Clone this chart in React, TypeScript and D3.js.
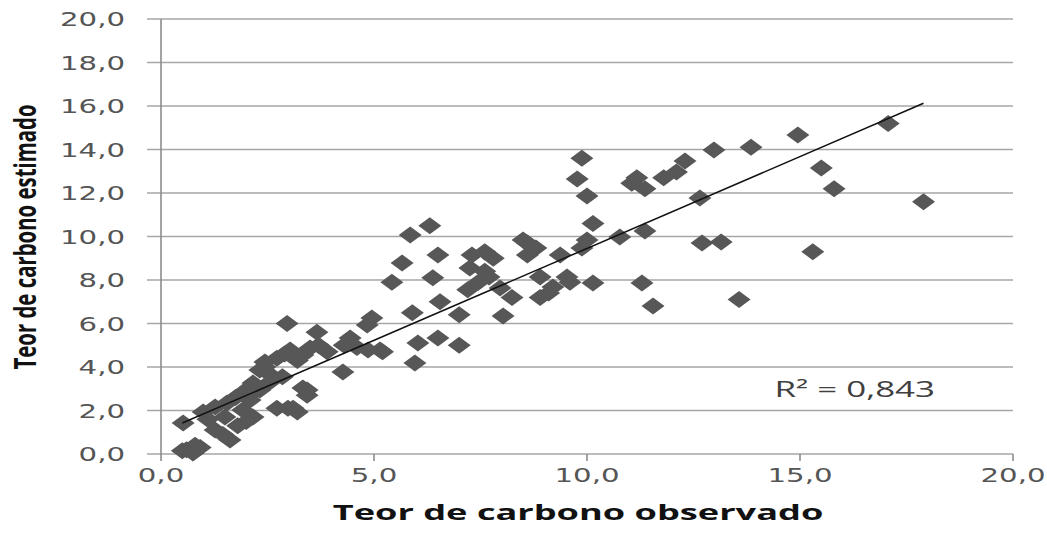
import React, { useEffect, useRef } from 'react';
import * as d3 from 'd3';

// Teor de carbono observado (x) vs estimado (y)
const observado = [
  0.5, 0.6, 0.75, 0.92, 0.8,
  0.52, 0.99, 1.27, 1.1, 1.55, 1.5, 1.92, 2.16, 1.62, 1.45, 1.27, 1.8, 2.0,
  2.14, 2.32, 2.1, 2.72, 2.98, 3.2, 3.33, 3.43, 2.16, 2.09, 2.0, 1.75, 2.44, 2.32, 2.6, 3.1,
  2.96, 3.66, 4.44, 4.95, 5.14, 3.03, 2.72, 2.44, 3.33, 3.5, 3.9, 4.27, 3.43, 4.3, 4.6,
  2.9, 3.2, 3.7, 2.55, 2.85,
  4.84, 5.2, 4.86, 6.03, 6.5, 7.0, 5.96,
  5.85, 6.31, 5.66, 6.5, 5.42, 6.38, 7.3, 7.6, 7.8, 7.25, 8.6, 8.6, 8.8, 7.7, 7.2, 7.96,
  8.24, 6.55, 7.0, 8.03, 5.9, 7.45, 7.6,
  9.88, 9.77, 10.0, 12.3, 12.98, 11.17, 11.36, 11.05, 11.8, 12.1, 12.65, 10.14, 8.73, 8.5,
  9.37, 10.0, 9.88, 10.77, 11.36, 12.7, 13.15, 8.9, 9.2, 9.53, 8.9, 10.14, 11.29, 11.55,
  9.1, 9.6,
  17.07, 14.95, 13.85, 15.5, 15.8, 17.9, 15.3, 13.57,
];
const estimado = [
  0.15, 0.2, 0.05, 0.3, 0.4,
  1.42, 1.93, 2.16, 1.6, 2.34, 1.7, 2.02, 1.7, 0.64, 0.9, 1.1, 1.3, 1.5,
  2.8, 2.94, 3.08, 2.1, 2.1, 1.93, 3.03, 2.7, 3.26, 2.48, 2.94, 2.6, 4.0, 3.86, 3.6, 2.1,
  6.0, 5.6, 5.33, 6.25, 4.78, 4.78, 4.4, 4.23, 4.55, 4.87, 4.7, 3.77, 2.94, 5.0, 4.9,
  4.6, 4.3, 5.0, 3.3, 3.55,
  5.93, 4.7, 4.78, 5.1, 5.33, 5.0, 4.18,
  10.07, 10.5, 8.78, 9.15, 7.9, 8.1, 9.15, 9.3, 9.0, 8.55, 9.7, 9.15, 9.47, 8.14, 7.55, 7.63,
  7.2, 7.0, 6.4, 6.35, 6.5, 7.9, 8.4,
  13.6, 12.64, 11.86, 13.47, 13.98, 12.7, 12.2, 12.45, 12.7, 12.96, 11.77, 10.6, 9.5, 9.84,
  9.15, 9.84, 9.47, 9.98, 10.25, 9.7, 9.75, 8.14, 7.68, 8.14, 7.2, 7.86, 7.86, 6.8,
  7.4, 7.9,
  15.2, 14.67, 14.1, 13.15, 12.2, 11.6, 9.3, 7.1,
];

// linha de tendência linear (Excel) e R²
const tendenciaInclinacao = 0.845;
const tendenciaIntercepto = 1.0;
const r2Texto = 'R² = 0,843';

const xTicks = [0, 5, 10, 15, 20];
const yTicks = [0, 2, 4, 6, 8, 10, 12, 14, 16, 18, 20];

const fmt = (v: number) => v.toFixed(1).replace('.', ',');

const App = () => {
  const ref = useRef<SVGSVGElement>(null);

  useEffect(() => {
    const svg = d3.select(ref.current);
    svg.selectAll('*').remove();

    const SX = 1.46; // o original está esticado na horizontal
    const left = 161, right = 1013, top = 19, bottom = 454;

    const x = d3.scaleLinear().domain([0, 20]).range([left, right]);
    const y = d3.scaleLinear().domain([0, 20]).range([bottom, top]);

    const grid = '#a6a6a6';
    const textCol = '#555555';

    // grade horizontal
    svg.append('g')
      .selectAll('line')
      .data(yTicks)
      .join('line')
      .attr('x1', left - 14)
      .attr('x2', right)
      .attr('y1', (d) => y(d))
      .attr('y2', (d) => y(d))
      .attr('stroke', grid)
      .attr('stroke-width', 1.6);

    // eixo y
    svg.append('line')
      .attr('x1', left).attr('x2', left)
      .attr('y1', top).attr('y2', bottom)
      .attr('stroke', '#8c8c8c')
      .attr('stroke-width', 1.6);

    // marcas do eixo x
    svg.append('g')
      .selectAll('line')
      .data(xTicks)
      .join('line')
      .attr('x1', (d) => x(d))
      .attr('x2', (d) => x(d))
      .attr('y1', bottom)
      .attr('y2', bottom + 7)
      .attr('stroke', '#8c8c8c')
      .attr('stroke-width', 1.6);

    // rótulos y
    svg.append('g')
      .selectAll('g')
      .data(yTicks)
      .join('g')
      .attr('transform', (d) => `translate(${left - 36},${y(d) + 7}) scale(${SX},1)`)
      .append('text')
      .attr('text-anchor', 'end')
      .style('font-family', 'DejaVu Sans')
      .style('font-size', '20px')
      .style('fill', textCol)
      .text((d) => fmt(d));

    // rótulos x
    svg.append('g')
      .selectAll('g')
      .data(xTicks)
      .join('g')
      .attr('transform', (d) => `translate(${x(d)},${bottom + 28}) scale(${SX},1)`)
      .append('text')
      .attr('text-anchor', 'middle')
      .style('font-family', 'DejaVu Sans')
      .style('font-size', '20px')
      .style('fill', textCol)
      .text((d) => fmt(d));

    // pontos (losangos)
    const w = 11.5, h = 8.5;
    svg.append('g')
      .selectAll('path')
      .data(observado.map((v, i) => [v, estimado[i]]))
      .join('path')
      .attr('d', `M0,${-h}L${w},0L0,${h}L${-w},0Z`)
      .attr('transform', (d) => `translate(${x(d[0])},${y(d[1])})`)
      .attr('fill', '#575757');

    // linha de tendência
    const [xmin, xmax] = d3.extent(observado) as [number, number];
    const linha = d3.line<number>()
      .x((d) => x(d))
      .y((d) => y(tendenciaIntercepto + tendenciaInclinacao * d));
    svg.append('path')
      .datum([xmin, xmax])
      .attr('d', linha)
      .attr('fill', 'none')
      .attr('stroke', '#111')
      .attr('stroke-width', 1.5);

    // R²
    svg.append('g')
      .attr('transform', `translate(${x(14.4)},${y(2.6)}) scale(${SX},1)`)
      .append('text')
      .attr('textLength', 110)
      .attr('lengthAdjust', 'spacingAndGlyphs')
      .style('font-family', 'Open Sans')
      .style('font-size', '21px')
      .style('fill', '#404040')
      .text(r2Texto);

    // títulos
    svg.append('g')
      .attr('transform', `translate(${(left + right) / 2 - 9},${520}) scale(${SX},1)`)
      .append('text')
      .attr('text-anchor', 'middle')
      .attr('textLength', 336)
      .attr('lengthAdjust', 'spacingAndGlyphs')
      .style('font-family', 'Open Sans')
      .style('font-weight', 'bold')
      .style('font-size', '21px')
      .style('fill', '#111')
      .text('Teor de carbono observado');

    svg.append('g')
      .attr('transform', `translate(36,${237}) scale(${SX},1) rotate(-90)`)
      .append('text')
      .attr('text-anchor', 'middle')
      .attr('textLength', 265)
      .attr('lengthAdjust', 'spacingAndGlyphs')
      .style('font-family', 'Open Sans')
      .style('font-weight', 'bold')
      .style('font-size', '21px')
      .style('fill', '#111')
      .text('Teor de carbono estimado');
  }, []);

  return (
    <svg
      ref={ref}
      width={1047}
      height={535}
      style={{ position: 'absolute', left: 0, top: 0, background: '#fff' }}
    />
  );
};

export default App;
